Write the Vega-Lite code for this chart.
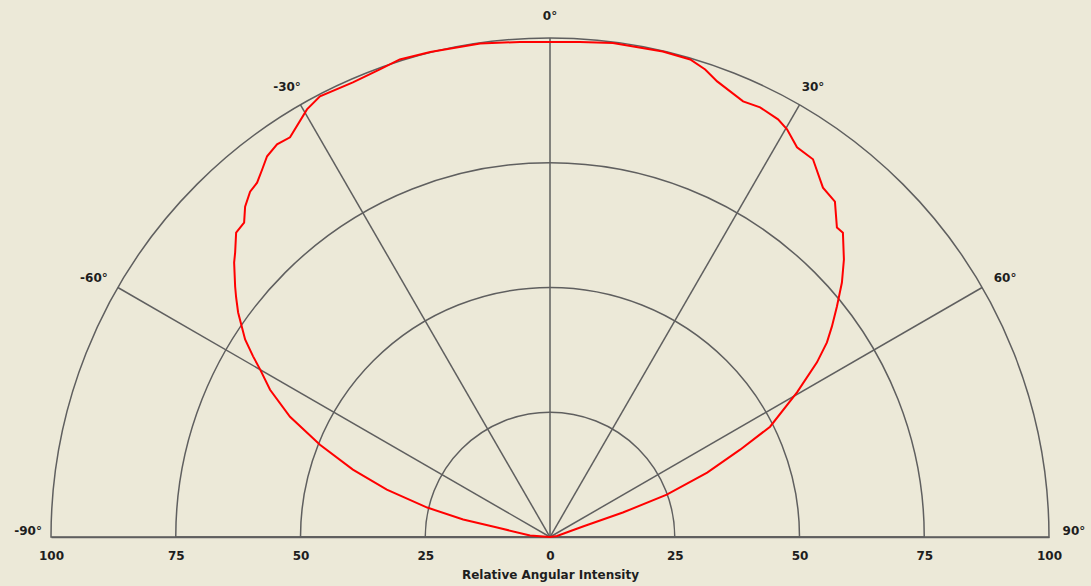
{
  "$schema": "https://vega.github.io/schema/vega-lite/v6.json",
  "width": 998,
  "height": 499,
  "autosize": {"type": "none"},
  "padding": {"left": 51, "top": 38, "right": 42, "bottom": 49},
  "background": "#ECE9D8",
  "config": {"view": {"stroke": null}},
  "data": {
    "values": [
      {"kind": "circle", "x": 0, "y": 0, "r": 25, "a0": -90, "a1": 90},
      {"kind": "circle", "x": 0, "y": 0, "r": 50, "a0": -90, "a1": 90},
      {"kind": "circle", "x": 0, "y": 0, "r": 75, "a0": -90, "a1": 90},
      {"kind": "circle", "x": 0, "y": 0, "r": 100, "a0": -90, "a1": 90},
      {"kind": "spoke", "sid": -60, "i": 1, "x": 0, "y": 0},
      {"kind": "spoke", "sid": -60, "i": 2, "x": -86.6, "y": 50},
      {"kind": "spoke", "sid": -30, "i": 1, "x": 0, "y": 0},
      {"kind": "spoke", "sid": -30, "i": 2, "x": -50, "y": 86.6},
      {"kind": "spoke", "sid": 0, "i": 1, "x": 0, "y": 0},
      {"kind": "spoke", "sid": 0, "i": 2, "x": 0, "y": 100},
      {"kind": "spoke", "sid": 30, "i": 1, "x": 0, "y": 0},
      {"kind": "spoke", "sid": 30, "i": 2, "x": 50, "y": 86.6},
      {"kind": "spoke", "sid": 60, "i": 1, "x": 0, "y": 0},
      {"kind": "spoke", "sid": 60, "i": 2, "x": 86.6, "y": 50},
      {"kind": "label", "label": "0°", "x": 0, "y": 104.4},
      {"kind": "label", "label": "-30°", "x": -52.7, "y": 90.2},
      {"kind": "label", "label": "30°", "x": 52.7, "y": 90.2},
      {"kind": "label", "label": "-60°", "x": -91.4, "y": 51.9},
      {"kind": "label", "label": "60°", "x": 91.2, "y": 51.9},
      {"kind": "label", "label": "-90°", "x": -104.6, "y": 1.2},
      {"kind": "label", "label": "90°", "x": 105.0, "y": 1.2},
      {"kind": "curve", "i": 1, "x": 0, "y": 0},
      {"kind": "curve", "i": 2, "x": -4.0, "y": 0.3},
      {"kind": "curve", "i": 3, "x": -10.6, "y": 1.9},
      {"kind": "curve", "i": 4, "x": -17.4, "y": 3.5},
      {"kind": "curve", "i": 5, "x": -24.6, "y": 5.9},
      {"kind": "curve", "i": 6, "x": -32.7, "y": 9.5},
      {"kind": "curve", "i": 7, "x": -39.5, "y": 13.5},
      {"kind": "curve", "i": 8, "x": -46.1, "y": 18.5},
      {"kind": "curve", "i": 9, "x": -52.1, "y": 24.1},
      {"kind": "curve", "i": 10, "x": -56.1, "y": 29.5},
      {"kind": "curve", "i": 11, "x": -58.1, "y": 33.6},
      {"kind": "curve", "i": 12, "x": -59.5, "y": 36.2},
      {"kind": "curve", "i": 13, "x": -61.1, "y": 39.6},
      {"kind": "curve", "i": 14, "x": -62.5, "y": 45.0},
      {"kind": "curve", "i": 15, "x": -62.9, "y": 48.0},
      {"kind": "curve", "i": 16, "x": -63.1, "y": 50.2},
      {"kind": "curve", "i": 17, "x": -63.3, "y": 55.0},
      {"kind": "curve", "i": 18, "x": -63.1, "y": 57.0},
      {"kind": "curve", "i": 19, "x": -62.9, "y": 61.0},
      {"kind": "curve", "i": 20, "x": -61.3, "y": 63.0},
      {"kind": "curve", "i": 21, "x": -61.1, "y": 66.2},
      {"kind": "curve", "i": 22, "x": -60.1, "y": 69.2},
      {"kind": "curve", "i": 23, "x": -58.7, "y": 71.0},
      {"kind": "curve", "i": 24, "x": -57.7, "y": 73.6},
      {"kind": "curve", "i": 25, "x": -56.7, "y": 76.3},
      {"kind": "curve", "i": 26, "x": -54.7, "y": 78.7},
      {"kind": "curve", "i": 27, "x": -52.1, "y": 80.1},
      {"kind": "curve", "i": 28, "x": -48.7, "y": 85.7},
      {"kind": "curve", "i": 29, "x": -46.1, "y": 88.3},
      {"kind": "curve", "i": 30, "x": -39.5, "y": 91.1},
      {"kind": "curve", "i": 31, "x": -34.1, "y": 93.7},
      {"kind": "curve", "i": 32, "x": -30.1, "y": 95.7},
      {"kind": "curve", "i": 33, "x": -24.0, "y": 97.2},
      {"kind": "curve", "i": 34, "x": -14.0, "y": 98.9},
      {"kind": "curve", "i": 35, "x": -6.0, "y": 99.2},
      {"kind": "curve", "i": 36, "x": 0, "y": 99.2},
      {"kind": "curve", "i": 37, "x": 6.0, "y": 99.2},
      {"kind": "curve", "i": 38, "x": 12.6, "y": 99.0},
      {"kind": "curve", "i": 39, "x": 22.6, "y": 97.3},
      {"kind": "curve", "i": 40, "x": 28.1, "y": 95.7},
      {"kind": "curve", "i": 41, "x": 31.1, "y": 93.7},
      {"kind": "curve", "i": 42, "x": 33.5, "y": 91.3},
      {"kind": "curve", "i": 43, "x": 38.7, "y": 87.3},
      {"kind": "curve", "i": 44, "x": 42.1, "y": 86.1},
      {"kind": "curve", "i": 45, "x": 45.7, "y": 83.7},
      {"kind": "curve", "i": 46, "x": 47.5, "y": 81.7},
      {"kind": "curve", "i": 47, "x": 49.5, "y": 78.1},
      {"kind": "curve", "i": 48, "x": 52.7, "y": 75.7},
      {"kind": "curve", "i": 49, "x": 54.7, "y": 70.0},
      {"kind": "curve", "i": 50, "x": 57.1, "y": 67.2},
      {"kind": "curve", "i": 51, "x": 57.5, "y": 62.0},
      {"kind": "curve", "i": 52, "x": 58.7, "y": 61.0},
      {"kind": "curve", "i": 53, "x": 58.9, "y": 55.6},
      {"kind": "curve", "i": 54, "x": 58.5, "y": 51.0},
      {"kind": "curve", "i": 55, "x": 57.5, "y": 46.2},
      {"kind": "curve", "i": 56, "x": 56.5, "y": 42.2},
      {"kind": "curve", "i": 57, "x": 55.5, "y": 39.0},
      {"kind": "curve", "i": 58, "x": 53.5, "y": 35.0},
      {"kind": "curve", "i": 59, "x": 49.5, "y": 29.0},
      {"kind": "curve", "i": 60, "x": 44.1, "y": 22.1},
      {"kind": "curve", "i": 61, "x": 38.1, "y": 17.5},
      {"kind": "curve", "i": 62, "x": 31.5, "y": 12.9},
      {"kind": "curve", "i": 63, "x": 23.4, "y": 8.5},
      {"kind": "curve", "i": 64, "x": 14.6, "y": 4.9},
      {"kind": "curve", "i": 65, "x": 6.6, "y": 2.1},
      {"kind": "curve", "i": 66, "x": 1.4, "y": 0.2},
      {"kind": "curve", "i": 67, "x": 0, "y": 0}
    ]
  },
  "encoding": {
    "x": {
      "field": "x",
      "type": "quantitative",
      "scale": {"domain": [-100, 100], "nice": false, "zero": false},
      "axis": {
        "orient": "bottom",
        "values": [-100, -75, -50, -25, 0, 25, 50, 75, 100],
        "labelExpr": "abs(datum.value)",
        "title": "Relative Angular Intensity",
        "grid": false,
        "ticks": false,
        "domain": true,
        "domainColor": "#5f5f5f",
        "domainWidth": 1.5,
        "labelFlush": false,
        "labelOverlap": false,
        "labelPadding": 13,
        "labelFont": "DejaVu Sans",
        "labelFontWeight": "bold",
        "labelFontSize": 12,
        "labelColor": "#1e1e1e",
        "titleFont": "DejaVu Sans",
        "titleFontWeight": "bold",
        "titleFontSize": 12,
        "titleColor": "#1e1e1e",
        "titlePadding": 8
      }
    },
    "y": {"field": "y", "type": "quantitative", "axis": null, "scale": {"domain": [0, 100], "nice": false}}
  },
  "layer": [
    {
      "transform": [{"filter": "datum.kind === 'circle'"}],
      "mark": {"type": "arc", "filled": false, "stroke": "#5f5f5f", "strokeWidth": 1.5},
      "encoding": {
        "theta": {"field": "a0", "type": "quantitative", "scale": {"type": "linear", "domain": [-180, 180], "range": [-3.14159265, 3.14159265]}},
        "theta2": {"field": "a1"},
        "radius": {"field": "r", "type": "quantitative", "scale": {"type": "linear", "domain": [0, 100], "range": [0, 499], "zero": true}}
      }
    },
    {
      "transform": [{"filter": "datum.kind === 'spoke'"}],
      "mark": {"type": "line", "color": "#5f5f5f", "strokeWidth": 1.5},
      "encoding": {
        "detail": {"field": "sid", "type": "nominal"},
        "order": {"field": "i", "type": "quantitative"}
      }
    },
    {
      "transform": [{"filter": "datum.kind === 'curve'"}],
      "mark": {"type": "line", "color": "#FF0000", "strokeWidth": 2},
      "encoding": {
        "order": {"field": "i", "type": "quantitative"}
      }
    },
    {
      "transform": [{"filter": "datum.kind === 'label'"}],
      "mark": {"type": "text", "font": "DejaVu Sans", "fontWeight": "bold", "fontSize": 12, "color": "#1e1e1e", "align": "center", "baseline": "middle"},
      "encoding": {
        "text": {"field": "label", "type": "nominal"}
      }
    }
  ]
}
